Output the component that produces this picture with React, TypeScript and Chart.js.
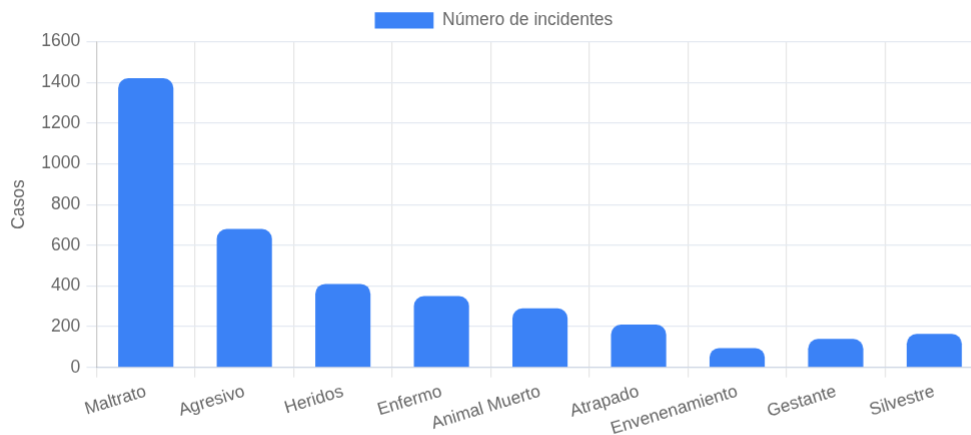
import React, { useEffect, useRef } from "react";
import { Chart, registerables } from "chart.js";

Chart.register(...registerables);

const categories = [
  "Maltrato",
  "Agresivo",
  "Heridos",
  "Enfermo",
  "Animal Muerto",
  "Atrapado",
  "Envenenamiento",
  "Gestante",
  "Silvestre",
];
const incidentes = [1420, 680, 410, 350, 290, 210, 95, 140, 165];
const seriesLabel = "Número de incidentes";
const yTitle = "Casos";

const SCALE = 1.25;
const W0 = 783;
const H0 = 355;

export default function App() {
  const ref = useRef<HTMLCanvasElement | null>(null);

  useEffect(() => {
    if (!ref.current) return;
    const font = { family: "'Liberation Sans', Arial, Helvetica, sans-serif", size: 14 };
    const chart = new Chart(ref.current, {
      type: "bar",
      data: {
        labels: categories,
        datasets: [
          {
            label: seriesLabel,
            data: incidentes,
            backgroundColor: "#3b82f6",
            borderColor: "#3b82f6",
            borderWidth: 0,
            borderRadius: 8,
            barPercentage: 0.7,
            categoryPercentage: 0.8,
          },
        ],
      },
      options: {
        animation: false,
        responsive: false,
        devicePixelRatio: SCALE,
        plugins: {
          legend: {
            display: true,
            position: "top",
            labels: { font, color: "#666", boxWidth: 47, boxHeight: 13 },
          },
          tooltip: { enabled: false },
        },
        scales: {
          x: {
            grid: { color: "rgba(0,0,0,0.1)" },
            border: { color: "#cfd6e3" },
            ticks: { font, color: "#666", minRotation: 17, maxRotation: 17, autoSkip: false },
          },
          y: {
            min: 0,
            max: 1600,
            ticks: {
              stepSize: 200,
              font,
              color: "#666",
              padding: 5,
              callback: (v: any) => String(v),
            },
            grid: { color: "#e4e9f1" },
            border: { color: "rgba(0,0,0,0.12)" },
            title: { display: true, text: yTitle, font, color: "#666" },
          },
        },
      },
    });
    return () => chart.destroy();
  }, []);

  return (
    <div
      style={{
        position: "fixed",
        left: 0,
        top: 0,
        width: 971,
        height: 435,
        overflow: "hidden",
      }}
    >
      <div
        style={{
          position: "absolute",
          left: 4,
          top: -1,
          width: W0,
          height: H0,
          transform: `scale(${SCALE})`,
          transformOrigin: "0 0",
        }}
      >
        <canvas ref={ref} width={W0} height={H0} style={{ width: W0, height: H0, display: "block" }} />
      </div>
    </div>
  );
}
